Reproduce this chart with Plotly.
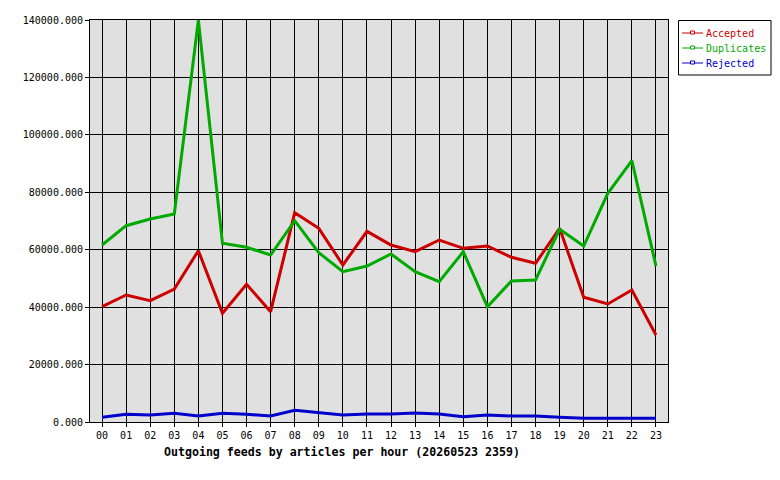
import plotly.graph_objects as go

hours = ["00", "01", "02", "03", "04", "05", "06", "07", "08", "09", "10", "11",
         "12", "13", "14", "15", "16", "17", "18", "19", "20", "21", "22", "23"]

accepted = [40150, 44230, 42250, 46320, 59660, 37850, 47950, 38420, 72900, 67450, 54680, 66400,
            61640, 59310, 63380, 60490, 61290, 57350, 55260, 67450, 43420, 41090, 45970, 30300]
duplicates = [61640, 68370, 70700, 72440, 140000, 62230, 60840, 58160, 70100, 58960, 52350, 54330,
              58510, 52350, 48870, 59310, 40150, 49100, 49450, 67100, 61290, 79640, 91000, 54330]
rejected = [1620, 2670, 2440, 3020, 2090, 3020, 2670, 2090, 4070, 3370, 2440, 2790,
            2790, 3130, 2790, 1860, 2440, 2090, 2090, 1620, 1270, 1270, 1270, 1270]

series_names = ["Accepted", "Duplicates", "Rejected"]
series_values = [accepted, duplicates, rejected]
series_colors = ["#cc0000", "#00aa00", "#0000cc"]

y_ticks = [0, 20000, 40000, 60000, 80000, 100000, 120000, 140000]
title_text = "Outgoing feeds by articles per hour (20260523 2359)"

FONT = "DejaVu Sans Mono"

fig = go.Figure()
for name, vals, col in zip(series_names, series_values, series_colors):
    fig.add_trace(go.Scatter(x=hours, y=vals, mode="lines", name=name,
                             line=dict(color=col, width=3), showlegend=False))

L, R, T, B = 90, 112, 20, 58
W, H = 780, 480
pw, ph = W - L - R, H - T - B

def px_x(x):
    return (x - L) / pw

def px_y(y):
    return (H - B - y) / ph

fig.update_layout(
    width=W, height=H,
    margin=dict(l=L, r=R, t=T, b=B),
    paper_bgcolor="white",
    plot_bgcolor="#e0e0e0",
    font=dict(family=FONT, size=10, color="black"),
    xaxis=dict(type="category", range=[-0.5, 23.5], showgrid=True, gridcolor="black", gridwidth=1,
               showline=True, linecolor="black", linewidth=1, mirror=True,
               ticks="outside", ticklen=4, tickcolor="black",
               tickfont=dict(family=FONT, size=10, color="black"), zeroline=False),
    yaxis=dict(range=[0, 140000], tickvals=y_ticks, tickformat=".3f",
               showgrid=True, gridcolor="black", gridwidth=1,
               showline=True, linecolor="black", linewidth=1, mirror=True,
               ticks="outside", ticklen=4, tickcolor="black",
               tickfont=dict(family=FONT, size=10, color="black"), zeroline=False),
)

fig.add_annotation(text="<b>" + title_text + "</b>", xref="paper", yref="paper",
                   x=px_x(342), y=px_y(452), xanchor="center", yanchor="middle",
                   showarrow=False, font=dict(family=FONT, size=11.6, color="black"))

# manual legend
shapes = [dict(type="rect", xref="paper", yref="paper",
               x0=px_x(678.5), x1=px_x(771), y0=px_y(20.5), y1=px_y(75),
               line=dict(color="black", width=1), fillcolor="white")]
for i, (name, col) in enumerate(zip(series_names, series_colors)):
    yy = 33 + 15 * i
    shapes.append(dict(type="line", xref="paper", yref="paper",
                       x0=px_x(682), x1=px_x(703), y0=px_y(yy), y1=px_y(yy),
                       line=dict(color=col, width=1)))
    shapes.append(dict(type="rect", xref="paper", yref="paper",
                       x0=px_x(690.5), x1=px_x(694.5), y0=px_y(yy + 1), y1=px_y(yy - 2),
                       line=dict(color=col, width=1), fillcolor="white"))
    fig.add_annotation(text=name, xref="paper", yref="paper", x=px_x(704), y=px_y(yy + 1),
                       xanchor="left", yanchor="middle", showarrow=False,
                       font=dict(family=FONT, size=10, color=col))
fig.update_layout(shapes=shapes)

fig.write_html("out.html")
